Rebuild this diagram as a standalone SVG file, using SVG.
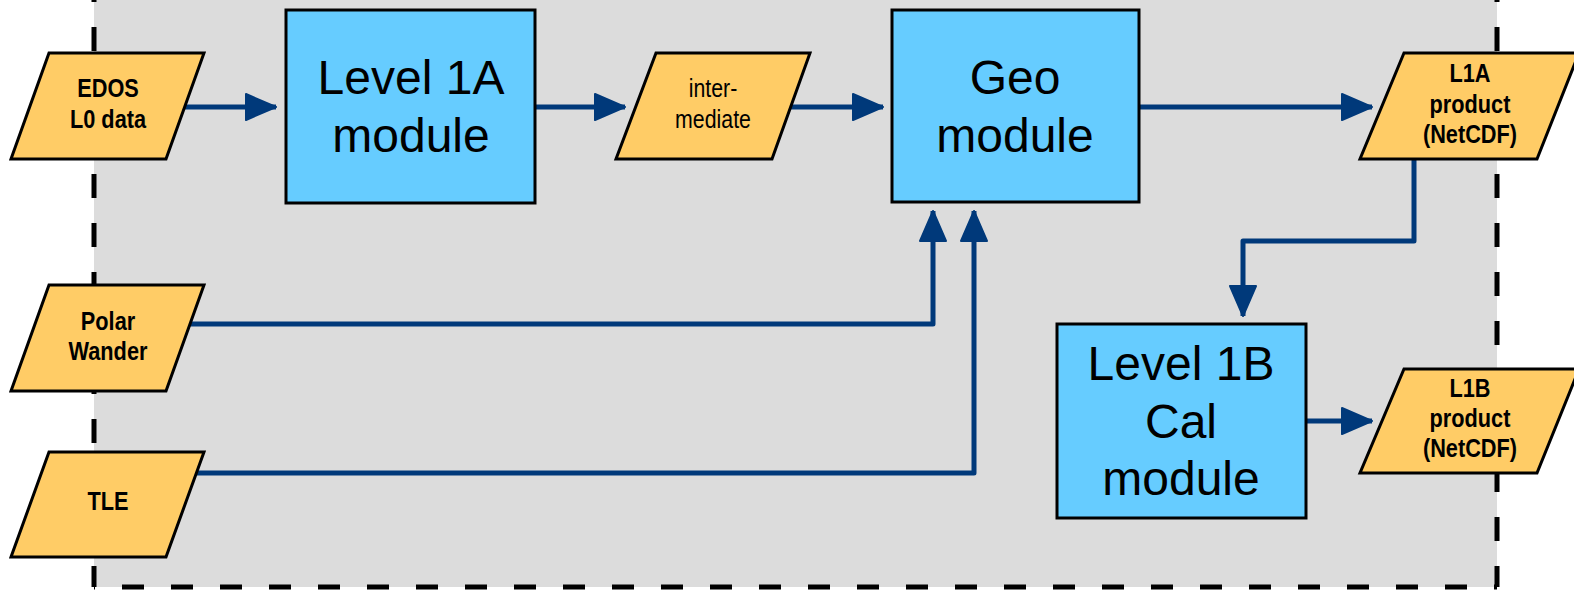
<svg xmlns="http://www.w3.org/2000/svg" width="1574" height="591" viewBox="0 0 1574 591">
<style>
.frame{stroke:#000;stroke-width:5;fill:none}
.data{fill:#ffcc66;stroke:#000;stroke-width:3;stroke-linejoin:miter}
.mod{fill:#66ccff;stroke:#000;stroke-width:3}
.bt{font-family:'Liberation Sans',Arial,sans-serif;font-weight:bold;font-size:26.5px;text-anchor:middle;fill:#000}
.rt{font-family:'Liberation Sans',Arial,sans-serif;font-size:26px;text-anchor:middle;fill:#000}
.big{font-family:'Liberation Sans',Arial,sans-serif;font-size:48px;text-anchor:middle;fill:#000}
.conn{fill:none;stroke:#00397a;stroke-width:5;stroke-linejoin:round}
</style>
<defs>
<marker id="arr" markerUnits="userSpaceOnUse" markerWidth="34" markerHeight="30" refX="31" refY="14" orient="auto" overflow="visible">
<path d="M1,1 L31,14 L1,27 Z" fill="#00397a" stroke="#00397a" stroke-width="2" stroke-linejoin="round"/>
</marker>
</defs>
<g id="frame">
<rect x="94" y="-10" width="1403" height="597" fill="#dcdcdc"/>
<line class="frame" x1="94" y1="0" x2="94" y2="587" stroke-dasharray="24 25" stroke-dashoffset="22"/>
<line class="frame" x1="94" y1="587" x2="1497" y2="587" stroke-dasharray="22 27" stroke-dashoffset="21"/>
<line class="frame" x1="1497" y1="0" x2="1497" y2="587" stroke-dasharray="24 25" stroke-dashoffset="22"/>
</g>
<g id="connectors">
<path class="conn" d="M184,107 H276" marker-end="url(#arr)"/>
<path class="conn" d="M535,107 H625" marker-end="url(#arr)"/>
<path class="conn" d="M790,107 H883" marker-end="url(#arr)"/>
<path class="conn" d="M1139,107 H1372" marker-end="url(#arr)"/>
<path class="conn" d="M189,324 H933 V211" marker-end="url(#arr)"/>
<path class="conn" d="M196,473 H974 V211" marker-end="url(#arr)"/>
<path class="conn" d="M1414,159 V241 H1243 V316" marker-end="url(#arr)"/>
<path class="conn" d="M1306,421 H1372" marker-end="url(#arr)"/>
</g>
<g id="edos">
<polygon class="data" points="49,53 204,53 166,159 11,159"/>
<text class="bt" transform="matrix(0.82 0 0 1 108 97)">EDOS</text>
<text class="bt" transform="matrix(0.82 0 0 1 108 128)">L0 data</text>
</g>
<g id="polar">
<polygon class="data" points="49,285 204,285 166,391 11,391"/>
<text class="bt" transform="matrix(0.82 0 0 1 108 330)">Polar</text>
<text class="bt" transform="matrix(0.82 0 0 1 108 360)">Wander</text>
</g>
<g id="tle">
<polygon class="data" points="49,452 204,452 166,557 11,557"/>
<text class="bt" transform="matrix(0.82 0 0 1 108 510)">TLE</text>
</g>
<g id="level1a">
<rect class="mod" x="286" y="10" width="249" height="193"/>
<text class="big" x="411" y="94">Level 1A</text>
<text class="big" x="411" y="152">module</text>
</g>
<g id="intermediate">
<polygon class="data" points="656,53 810,53 772,159 616,159"/>
<text class="rt" transform="matrix(0.82 0 0 1 713 97)">inter-</text>
<text class="rt" transform="matrix(0.82 0 0 1 713 128)">mediate</text>
</g>
<g id="geo">
<rect class="mod" x="892" y="10" width="247" height="192"/>
<text class="big" x="1015" y="94">Geo</text>
<text class="big" x="1015" y="152">module</text>
</g>
<g id="l1a">
<polygon class="data" points="1404,53 1579,53 1537,159 1360,159"/>
<text class="bt" transform="matrix(0.82 0 0 1 1470 82)">L1A</text>
<text class="bt" transform="matrix(0.82 0 0 1 1470 113)">product</text>
<text class="bt" transform="matrix(0.82 0 0 1 1470 143)">(NetCDF)</text>
</g>
<g id="level1b">
<rect class="mod" x="1057" y="324" width="249" height="194"/>
<text class="big" x="1181" y="380">Level 1B</text>
<text class="big" x="1181" y="438">Cal</text>
<text class="big" x="1181" y="495">module</text>
</g>
<g id="l1b">
<polygon class="data" points="1404,369 1579,369 1537,473 1360,473"/>
<text class="bt" transform="matrix(0.82 0 0 1 1470 397)">L1B</text>
<text class="bt" transform="matrix(0.82 0 0 1 1470 427)">product</text>
<text class="bt" transform="matrix(0.82 0 0 1 1470 457)">(NetCDF)</text>
</g>
</svg>
